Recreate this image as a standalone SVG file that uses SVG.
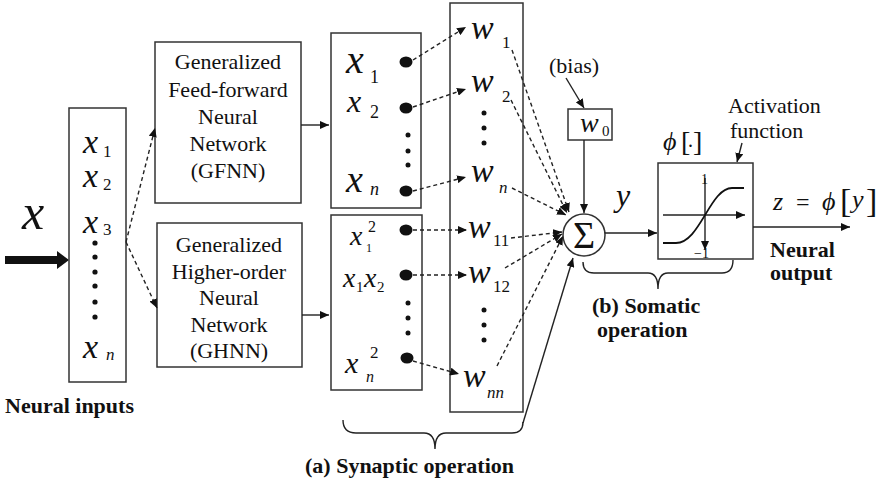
<svg xmlns="http://www.w3.org/2000/svg" width="880" height="487" viewBox="0 0 880 487" style="font-family:'Liberation Serif',serif">
<style>
.box{fill:none;stroke:#333;stroke-width:1.5}
text{font-family:'Liberation Serif',serif !important}
.lbl{font-size:22px;text-anchor:middle;fill:#111}
.b{font-weight:bold;font-size:22px;fill:#111}
.i{font-style:italic;fill:#111}
.n{fill:#111}
.sub{font-size:17px;fill:#111}
.dash{fill:none;stroke:#222;stroke-width:1.4;stroke-dasharray:4 3}
.sol{fill:none;stroke:#222;stroke-width:1.4}
.dot{fill:#111}
</style>
<defs>
<marker id="ah" markerUnits="userSpaceOnUse" markerWidth="10" markerHeight="8" refX="9" refY="4" orient="auto">
<path d="M0,0 L9,4 L0,8 z" fill="#111"/>
</marker>
</defs>
<rect width="880" height="487" fill="#fff"/>

<g id="input">
<text class="i" font-family="Liberation Serif" x="22" y="229" font-size="50">x</text>
<polygon points="5,256 57,256 57,251 69,260 57,269 57,264 5,264" fill="#111"/>
<rect class="box" x="69" y="108" width="57" height="274"/>
<text class="i" font-family="Liberation Serif" x="83" y="153" font-size="34">x</text><text class="sub" font-family="Liberation Serif" x="103" y="157">1</text>
<text class="i" font-family="Liberation Serif" x="83" y="187" font-size="34">x</text><text class="sub" font-family="Liberation Serif" x="103" y="190">2</text>
<text class="i" font-family="Liberation Serif" x="83" y="233" font-size="34">x</text><text class="sub" font-family="Liberation Serif" x="103" y="235">3</text>
<circle class="dot" cx="95" cy="243" r="2.6"/>
<circle class="dot" cx="95" cy="257" r="2.6"/>
<circle class="dot" cx="95" cy="272" r="2.6"/>
<circle class="dot" cx="95" cy="286" r="2.6"/>
<circle class="dot" cx="95" cy="302" r="2.6"/>
<circle class="dot" cx="95" cy="317" r="2.6"/>
<text class="i" font-family="Liberation Serif" x="83" y="358" font-size="34">x</text><text class="i" font-family="Liberation Serif" x="106" y="360" font-size="17">n</text>
<text class="b" font-family="Liberation Serif" x="5" y="413">Neural inputs</text>
</g>

<g id="gfnn">
<rect class="box" x="155" y="42" width="146" height="161"/>
<text class="lbl" font-family="Liberation Serif" x="228" y="69">Generalized</text>
<text class="lbl" font-family="Liberation Serif" x="228" y="97">Feed-forward</text>
<text class="lbl" font-family="Liberation Serif" x="228" y="124">Neural</text>
<text class="lbl" font-family="Liberation Serif" x="228" y="151">Network</text>
<text class="lbl" font-family="Liberation Serif" x="228" y="178">(GFNN)</text>
</g>

<g id="ghnn">
<rect class="box" x="157" y="223" width="145" height="144"/>
<text class="lbl" font-family="Liberation Serif" x="229" y="252">Generalized</text>
<text class="lbl" font-family="Liberation Serif" x="229" y="279">Higher-order</text>
<text class="lbl" font-family="Liberation Serif" x="229" y="305">Neural</text>
<text class="lbl" font-family="Liberation Serif" x="229" y="332">Network</text>
<text class="lbl" font-family="Liberation Serif" x="229" y="358">(GHNN)</text>
</g>

<g id="xfirst">
<rect class="box" x="331" y="33" width="90" height="175"/>
<text class="i" font-family="Liberation Serif" x="346" y="73" font-size="40">x</text><text class="n" font-family="Liberation Serif" x="370" y="83" font-size="18">1</text>
<text class="i" font-family="Liberation Serif" x="347" y="112" font-size="32">x</text><text class="n" font-family="Liberation Serif" x="370" y="118" font-size="18">2</text>
<text class="i" font-family="Liberation Serif" x="346" y="192" font-size="38">x</text><text class="i" font-family="Liberation Serif" x="370" y="195" font-size="18">n</text>
<ellipse class="dot" cx="406" cy="62" rx="6.5" ry="5.5"/>
<ellipse class="dot" cx="406" cy="108" rx="6.5" ry="5.5"/>
<circle class="dot" cx="408" cy="135" r="2.5"/>
<circle class="dot" cx="408" cy="151" r="2.5"/>
<circle class="dot" cx="408" cy="165" r="2.5"/>
<ellipse class="dot" cx="406" cy="191" rx="6.5" ry="5.5"/>
</g>

<g id="xhigh">
<rect class="box" x="331" y="215" width="91" height="175"/>
<text class="i" font-family="Liberation Serif" x="350" y="245" font-size="28">x</text><text class="n" font-family="Liberation Serif" x="368" y="232" font-size="16">2</text><text class="n" font-family="Liberation Serif" x="366" y="252" font-size="12">1</text>
<text class="i" font-family="Liberation Serif" x="343" y="287" font-size="28">x</text><text class="n" font-family="Liberation Serif" x="356" y="292" font-size="15">1</text>
<text class="i" font-family="Liberation Serif" x="364" y="287" font-size="28">x</text><text class="n" font-family="Liberation Serif" x="377" y="292" font-size="15">2</text>
<text class="i" font-family="Liberation Serif" x="345" y="373" font-size="30">x</text><text class="n" font-family="Liberation Serif" x="370" y="358" font-size="17">2</text><text class="i" font-family="Liberation Serif" x="366" y="382" font-size="16">n</text>
<ellipse class="dot" cx="406" cy="230" rx="6.5" ry="5.5"/>
<ellipse class="dot" cx="406" cy="275" rx="6.5" ry="5.5"/>
<circle class="dot" cx="408" cy="303" r="2.5"/>
<circle class="dot" cx="408" cy="318" r="2.5"/>
<circle class="dot" cx="408" cy="333" r="2.5"/>
<ellipse class="dot" cx="407" cy="358" rx="6.5" ry="5.5"/>
</g>

<g id="weights">
<rect class="box" x="450" y="3" width="73" height="409"/>
<text class="i" font-family="Liberation Serif" x="471" y="39" font-size="34">w</text><text class="sub" font-family="Liberation Serif" x="502" y="48">1</text>
<text class="i" font-family="Liberation Serif" x="471" y="92" font-size="34">w</text><text class="sub" font-family="Liberation Serif" x="502" y="102">2</text>
<circle class="dot" cx="484" cy="113" r="2.5"/>
<circle class="dot" cx="484" cy="128" r="2.5"/>
<circle class="dot" cx="484" cy="143" r="2.5"/>
<text class="i" font-family="Liberation Serif" x="471" y="182" font-size="34">w</text><text class="i" font-family="Liberation Serif" x="499" y="193" font-size="17">n</text>
<text class="i" font-family="Liberation Serif" x="468" y="238" font-size="34">w</text><text class="sub" font-family="Liberation Serif" x="493" y="246">11</text>
<text class="i" font-family="Liberation Serif" x="468" y="283" font-size="34">w</text><text class="sub" font-family="Liberation Serif" x="493" y="292">12</text>
<circle class="dot" cx="484" cy="310" r="2.5"/>
<circle class="dot" cx="484" cy="325" r="2.5"/>
<circle class="dot" cx="484" cy="340" r="2.5"/>
<text class="i" font-family="Liberation Serif" x="463" y="387" font-size="34">w</text><text class="i" font-family="Liberation Serif" x="487" y="398" font-size="17">nn</text>
</g>

<g id="bias">
<text class="n" font-family="Liberation Serif" x="549" y="73" font-size="22">(bias)</text>
<rect class="box" x="568" y="109" width="44" height="31"/>
<text class="i" font-family="Liberation Serif" x="580" y="132" font-size="28">w</text><text class="n" font-family="Liberation Serif" x="602" y="136" font-size="15">0</text>
</g>

<g id="sum">
<circle cx="584" cy="235" r="21" fill="#fff" stroke="#333" stroke-width="1.5"/>
<text class="n" font-family="Liberation Serif" x="584" y="248" font-size="38" text-anchor="middle">&#931;</text>
<text class="i" font-family="Liberation Serif" x="616" y="206" font-size="32">y</text>
</g>

<g id="activation">
<text class="n" font-family="Liberation Serif" x="663" y="150" font-size="26"><tspan font-style="italic">&#981;</tspan><tspan x="681" y="151" font-size="28">[</tspan><tspan x="688" y="147" font-size="20">.</tspan><tspan x="693" y="151" font-size="28">]</tspan></text>
<text class="n" font-family="Liberation Serif" x="728" y="113" font-size="22">Activation</text>
<text class="n" font-family="Liberation Serif" x="730" y="138" font-size="22">function</text>
<rect class="box" x="658" y="163" width="95" height="96"/>
<line class="sol" x1="663" y1="215" x2="745" y2="215" marker-end="url(#ah)"/>
<line class="sol" x1="705" y1="178" x2="705" y2="250" marker-end="url(#ah)"/>
<path d="M663,243 L676,243 C700,243 710,188 732,188 L744,188" fill="none" stroke="#111" stroke-width="1.8"/>
<text class="n" font-family="Liberation Serif" x="701" y="184" font-size="14">1</text>
<text class="n" font-family="Liberation Serif" x="694" y="258" font-size="14">&#8722;1</text>
</g>

<g id="output">
<text class="n" font-family="Liberation Serif" x="773" y="210" font-size="26"><tspan font-style="italic">z</tspan><tspan x="796" font-size="24">=</tspan><tspan x="822" font-style="italic">&#981;</tspan><tspan x="840" y="212" font-size="34">[</tspan><tspan x="852" y="208" font-style="italic">y</tspan><tspan x="866" y="212" font-size="34">]</tspan></text>
<text class="b" font-family="Liberation Serif" x="770" y="257">Neural</text>
<text class="b" font-family="Liberation Serif" x="770" y="280">output</text>
</g>

<g id="braces">
<path class="sol" d="M343,420 Q343,433 356,433 L424,433 Q435,433 435,449 Q435,433 446,433 L512,433 Q523,433 523,422"/>
<text class="b" font-family="Liberation Serif" x="305" y="473">(a) Synaptic operation</text>
<path class="sol" d="M583,262 Q583,273 594,273 L648,273 Q658,273 658,289 Q658,273 668,273 L722,273 Q733,273 733,260"/>
<text class="b" font-family="Liberation Serif" x="592" y="313">(b) Somatic</text>
<text class="b" font-family="Liberation Serif" x="597" y="337">operation</text>
</g>

<g id="connectors">
<line class="dash" x1="126" y1="242" x2="155" y2="128" marker-end="url(#ah)"/>
<line class="dash" x1="126" y1="242" x2="157" y2="308" marker-end="url(#ah)"/>
<line class="sol" x1="301" y1="125" x2="329" y2="125" marker-end="url(#ah)"/>
<line class="sol" x1="302" y1="315" x2="329" y2="315" marker-end="url(#ah)"/>
<line class="dash" x1="413" y1="60" x2="466" y2="27" marker-end="url(#ah)"/>
<line class="dash" x1="413" y1="107" x2="466" y2="89" marker-end="url(#ah)"/>
<line class="dash" x1="413" y1="191" x2="466" y2="177" marker-end="url(#ah)"/>
<line class="dash" x1="413" y1="230" x2="467" y2="230" marker-end="url(#ah)"/>
<line class="dash" x1="413" y1="275" x2="467" y2="275" marker-end="url(#ah)"/>
<line class="dash" x1="413" y1="361" x2="459" y2="374" marker-end="url(#ah)"/>
<line class="dash" x1="512" y1="50" x2="569" y2="212" marker-end="url(#ah)"/>
<line class="dash" x1="511" y1="100" x2="567" y2="213" marker-end="url(#ah)"/>
<line class="dash" x1="512" y1="188" x2="566" y2="215" marker-end="url(#ah)"/>
<line class="dash" x1="511" y1="238" x2="562" y2="232" marker-end="url(#ah)"/>
<line class="dash" x1="505" y1="268" x2="562" y2="234" marker-end="url(#ah)"/>
<line class="dash" x1="497" y1="366" x2="563" y2="236" marker-end="url(#ah)"/>
<line class="sol" x1="523" y1="423" x2="573" y2="258" marker-end="url(#ah)"/>
<line class="sol" x1="566" y1="78" x2="584" y2="108" marker-end="url(#ah)"/>
<line class="sol" x1="584" y1="140" x2="584" y2="213" marker-end="url(#ah)"/>
<line class="sol" x1="605" y1="233" x2="657" y2="233" marker-end="url(#ah)"/>
<line class="sol" x1="742" y1="143" x2="737" y2="162" marker-end="url(#ah)"/>
<line class="sol" x1="753" y1="227" x2="850" y2="227" marker-end="url(#ah)"/>
</g>
</svg>
